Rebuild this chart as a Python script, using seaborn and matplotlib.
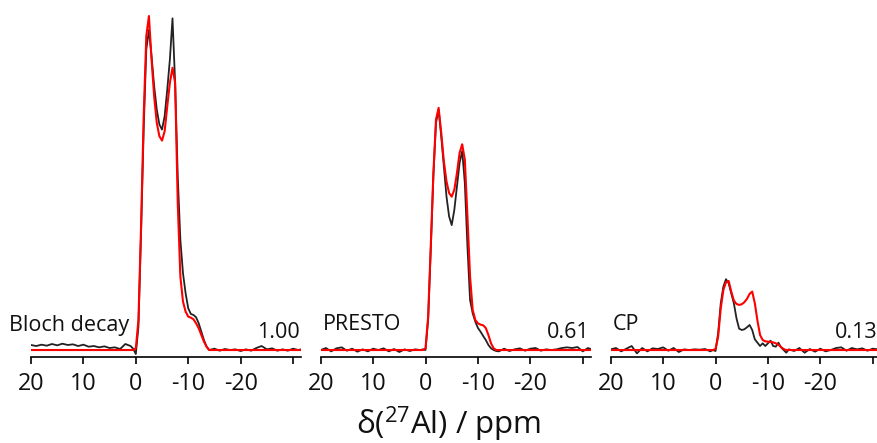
import numpy as np
import pandas as pd
import matplotlib
matplotlib.use("Agg")
import matplotlib.pyplot as plt
import seaborn as sns

# Chemical shift sampling (ppm)
PPM = [20, 19, 18, 17, 16, 15, 14, 13, 12, 11, 10, 9, 8, 7, 6, 5, 4, 3, 2, 1,
       0.5, 0, -0.5, -1, -1.5, -2, -2.5, -3, -3.5, -4, -4.5, -5, -5.5, -6, -6.5,
       -7, -7.5, -8, -8.5, -9, -9.5, -10, -10.5, -11, -11.5, -12, -12.5, -13,
       -13.5, -14,
       -15, -16, -17, -18, -19, -20, -21, -22, -23, -24, -25, -26, -27, -28,
       -29, -30, -31, -31.5]

ZERO_L = [0.0] * 20
ZERO_R = [0.0] * 18

# Bloch decay: experiment (black) and simulation (red)
bloch_exp = ([0.015, 0.012, 0.016, 0.013, 0.018, 0.014, 0.019, 0.015, 0.017, 0.012,
              0.016, 0.010, 0.012, 0.008, 0.011, 0.006, 0.008, 0.003, 0.018, 0.012]
             + [0.004, -0.012, 0.07, 0.35, 0.66, 0.90, 0.958, 0.88, 0.79, 0.72,
                0.675, 0.66, 0.70, 0.78, 0.87, 0.993, 0.80, 0.52, 0.33, 0.23,
                0.17, 0.125, 0.108, 0.105, 0.098, 0.08, 0.055, 0.03, 0.01, 0.0]
             + [0.004, -0.002, 0.003, 0.0, 0.002, -0.003, 0.002, -0.002, 0.006,
                0.012, 0.002, 0.005, -0.002, 0.002, -0.002, 0.004, 0.0, 0.002])
bloch_sim = (ZERO_L
             + [0.0, 0.005, 0.09, 0.37, 0.70, 0.94, 1.0, 0.87, 0.76, 0.68,
                0.64, 0.627, 0.655, 0.73, 0.80, 0.845, 0.80, 0.44, 0.22, 0.145,
                0.115, 0.10, 0.097, 0.092, 0.08, 0.065, 0.045, 0.025, 0.01, 0.0]
             + ZERO_R)

# PRESTO
presto_exp = ([0.0, 0.006, -0.004, 0.005, 0.008, -0.002, 0.004, -0.005, 0.002, -0.004,
               0.004, 0.0, 0.005, -0.004, 0.003, -0.006, 0.002, -0.003, 0.002, 0.0]
              + [0.002, 0.0, 0.09, 0.30, 0.52, 0.68, 0.719, 0.64, 0.55, 0.46,
                 0.40, 0.374, 0.42, 0.49, 0.56, 0.596, 0.50, 0.31, 0.15, 0.11,
                 0.085, 0.066, 0.055, 0.042, 0.03, 0.015, 0.005, 0.0, -0.003, -0.004]
              + [0.004, -0.003, 0.002, 0.005, -0.002, 0.004, 0.006, -0.002, 0.002,
                 0.0, 0.002, 0.006, 0.008, 0.006, 0.009, -0.004, 0.006, 0.003])
presto_sim = (ZERO_L
              + [0.0, 0.005, 0.10, 0.31, 0.53, 0.69, 0.725, 0.65, 0.565, 0.505,
                 0.47, 0.459, 0.48, 0.53, 0.59, 0.616, 0.57, 0.40, 0.22, 0.12,
                 0.09, 0.08, 0.076, 0.074, 0.066, 0.045, 0.02, 0.005, 0.0, 0.0]
              + ZERO_R)

# CP
cp_exp = ([0.002, 0.006, -0.004, 0.004, 0.012, -0.01, 0.006, -0.004, 0.005, 0.003,
           0.008, -0.002, 0.006, -0.006, 0.002, 0.0, 0.002, 0.001, 0.003, -0.004]
          + [0.0, -0.003, 0.05, 0.14, 0.19, 0.212, 0.20, 0.17, 0.14, 0.095,
             0.064, 0.06, 0.062, 0.068, 0.075, 0.06, 0.032, 0.022, 0.012, 0.02,
             0.012, 0.02, 0.028, 0.012, 0.01, 0.022, 0.008, 0.0, -0.008, 0.002]
          + [-0.003, 0.006, -0.008, 0.003, -0.005, 0.004, -0.004, 0.0, 0.006,
             0.008, -0.002, 0.006, 0.002, 0.005, -0.002, 0.004, 0.002, 0.0])
cp_sim = (ZERO_L
          + [0.0, 0.003, 0.04, 0.125, 0.18, 0.203, 0.207, 0.175, 0.148, 0.138,
             0.135, 0.137, 0.143, 0.153, 0.168, 0.175, 0.14, 0.088, 0.045, 0.03,
             0.026, 0.025, 0.024, 0.023, 0.02, 0.016, 0.009, 0.003, 0.0, 0.0]
          + ZERO_R)

NAMES = ["Bloch decay", "PRESTO", "CP"]
RELATIVE = ["1.00", "0.61", "0.13"]
EXP = [bloch_exp, presto_exp, cp_exp]
SIM = [bloch_sim, presto_sim, cp_sim]

TICKS = [20, 10, 0, -10, -20, -30]
TICK_LABELS = ["20", "10", "0", "-10", "-20", ""]

sns.set_theme(style="white")
plt.rcParams["font.family"] = ["Open Sans", "DejaVu Sans"]
plt.rcParams["mathtext.fontset"] = "custom"
plt.rcParams["mathtext.rm"] = "Open Sans"
plt.rcParams["mathtext.it"] = "Open Sans:italic"

W, H = 878, 443
fig = plt.figure(figsize=(W / 100, H / 100), dpi=100)
fig.patch.set_facecolor("white")

lefts = [31, 320.7, 610.7]
ax_w = 269.9
spine_y = 356.7
top_y = 10

for i in range(3):
    ax = fig.add_axes([lefts[i] / W, (H - spine_y) / H, ax_w / W, (spine_y - top_y) / H])
    ax.set_facecolor("none")
    df = pd.DataFrame({"ppm": PPM, "exp": EXP[i], "sim": SIM[i]})
    sns.lineplot(data=df, x="ppm", y="exp", ax=ax, color="#222222", lw=1.3,
                 estimator=None, sort=False)
    sns.lineplot(data=df, x="ppm", y="sim", ax=ax, color="#ff0000", lw=1.5,
                 estimator=None, sort=False)
    ax.set_xlim(20, -31.5)
    ax.set_ylim(-0.02, 1.018)
    for s in ["left", "right", "top"]:
        ax.spines[s].set_visible(False)
    ax.spines["bottom"].set_color("black")
    ax.spines["bottom"].set_linewidth(1.2)
    ax.set_yticks([])
    ax.set_xticks(TICKS)
    ax.set_xticklabels(TICK_LABELS)
    ax.tick_params(axis="x", direction="out", length=5, width=1.2, color="black",
                   labelsize=16.8, labelcolor="#111111", pad=6, bottom=True)
    ax.set_xlabel("")
    ax.set_ylabel("")

    right_px = lefts[i] + ax_w
    fig.text((lefts[i] - 21.5) / W if i == 0 else (lefts[i] + 2) / W,
             1 - 330.5 / H, NAMES[i], fontsize=15.5, color="#111111",
             ha="left", va="baseline")
    fig.text(min(right_px - 1.5, 877.5) / W, 1 - 338.5 / H, RELATIVE[i],
             fontsize=15.5, color="#111111", ha="right", va="baseline")

fig.text(448.5 / W, 1 - 434 / H, r"δ($\mathrm{^{27}}$Al) / ppm", fontsize=22.5,
         color="#111111", ha="center", va="baseline")

fig.savefig("out.png", dpi=100)
